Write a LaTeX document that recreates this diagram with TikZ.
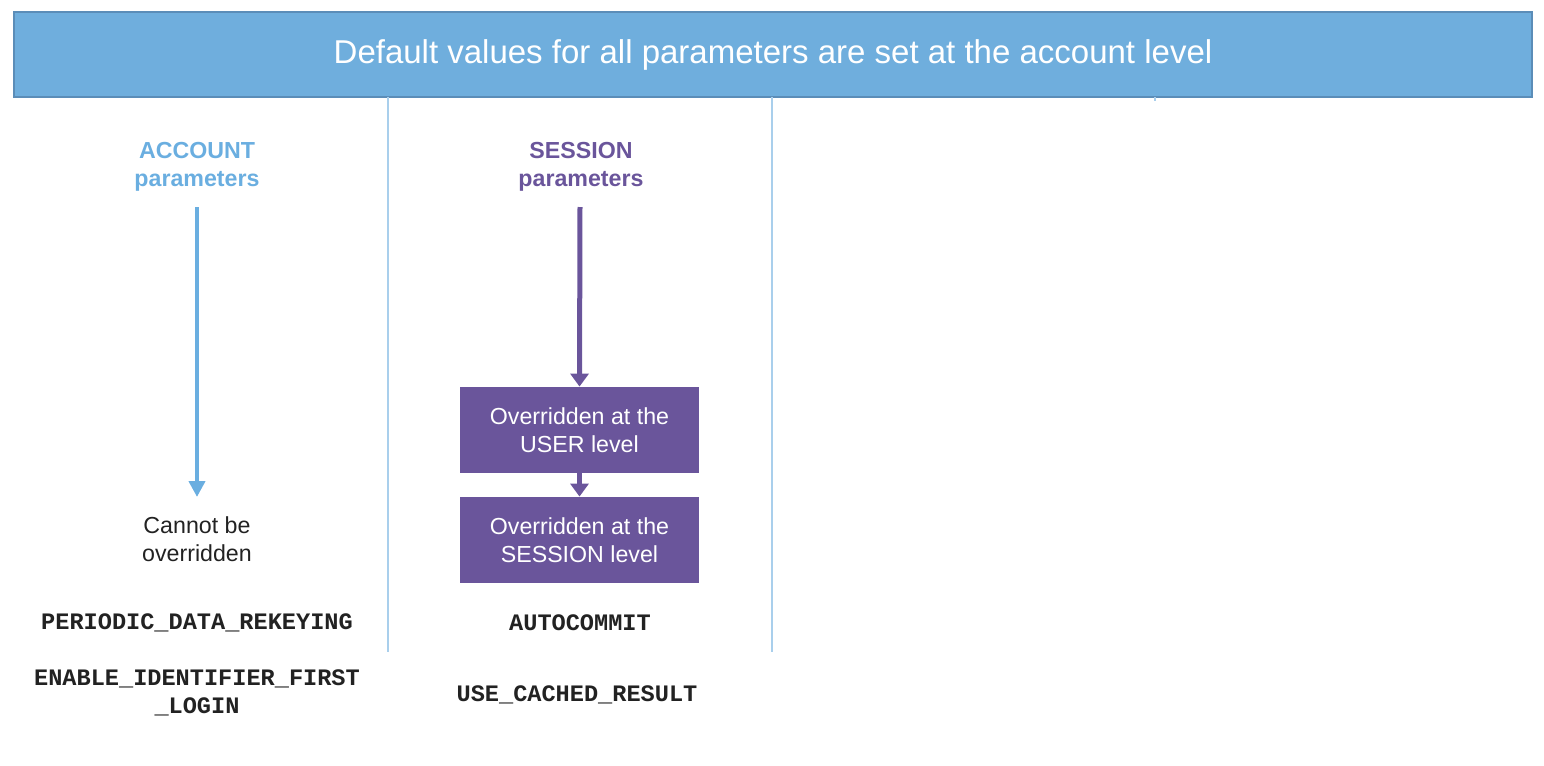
\documentclass[tikz,border=0pt]{standalone}
\usepackage{fontspec}
\setmainfont{Liberation Sans}
\setmonofont{Liberation Mono}
\usetikzlibrary{arrows.meta}
\definecolor{hdrfill}{HTML}{6FAEDD}
\definecolor{hdrline}{HTML}{5B8DB8}
\definecolor{acblue}{HTML}{6AAEE0}
\definecolor{sepblue}{HTML}{A9CFEC}
\definecolor{purp}{HTML}{6A559B}
\definecolor{txt}{HTML}{222222}
\begin{document}
\begin{tikzpicture}[x=0.5pt,y=-0.5pt,
  lbl/.style={font=\fontsize{11.6}{14}\selectfont, align=center, inner sep=0},
  head/.style={lbl, font=\fontsize{11.6}{14}\selectfont\bfseries},
  mono/.style={font=\fontsize{11.8}{14}\selectfont\ttfamily\bfseries, text=txt, inner sep=0, align=center},
  pbox/.style={lbl, fill=purp, text=white, minimum width=119.5pt, minimum height=43pt},
  sep/.style={draw=sepblue, line width=0.6pt},
  acarrow/.style={draw=acblue, line width=2.4pt, -{Triangle[width=8pt,length=8pt]}},
  sarrow/.style={draw=purp, line width=2.5pt, -{Triangle[width=9pt,length=6.5pt]}}
]
\useasboundingbox (0,0) rectangle (1544,766);
% header
\node[draw=hdrline, fill=hdrfill, line width=0.6pt, minimum width=759pt, minimum height=42.5pt, inner sep=0,
      text=white, font=\fontsize{16.5}{20}\selectfont] (hdr) at (773,54.5)
      {\raisebox{-1pt}{Default values for all parameters are set at the account level}};
% separators
\coordinate (v1t) at (388,97); \coordinate (v1b) at (388,652);
\coordinate (v2t) at (772,97); \coordinate (v2b) at (772,652);
\coordinate (v3t) at (1155,97); \coordinate (v3b) at (1155,101);
\draw[sep] (v1t) -- (v1b);
\draw[sep] (v2t) -- (v2b);
\draw[sep] (v3t) -- (v3b);
% account column
\node[head, text=acblue] (acct) at (197,167) {ACCOUNT\\parameters};
\coordinate (a1) at (197,207);
\coordinate (a2) at (197,497);
\draw[acarrow] (a1) -- (a2);
\node[lbl, text=txt] (cannot) at (197,539) {Cannot be\\overridden};
\node[mono] (pdr) at (197,623) {PERIODIC\_DATA\_REKEYING};
\node[mono] (eif) at (197,693) {ENABLE\_IDENTIFIER\_FIRST\\\_LOGIN};
% session column
\node[head, text=purp] (sess) at (581,167) {SESSION\\parameters};
\coordinate (s1) at (580,207);
\node[pbox] (user) at (579.5,430) {Overridden at the\\USER level};
\node[pbox] (slev) at (579.5,540) {Overridden at the\\SESSION level};
\draw[sarrow] (s1) -- (user.north);
\draw[sarrow] (user.south) -- (slev.north);
\node[mono] (auto) at (580,623) {AUTOCOMMIT};
\node[mono] (ucr) at (577,695) {USE\_CACHED\_RESULT};
\end{tikzpicture}
\end{document}
